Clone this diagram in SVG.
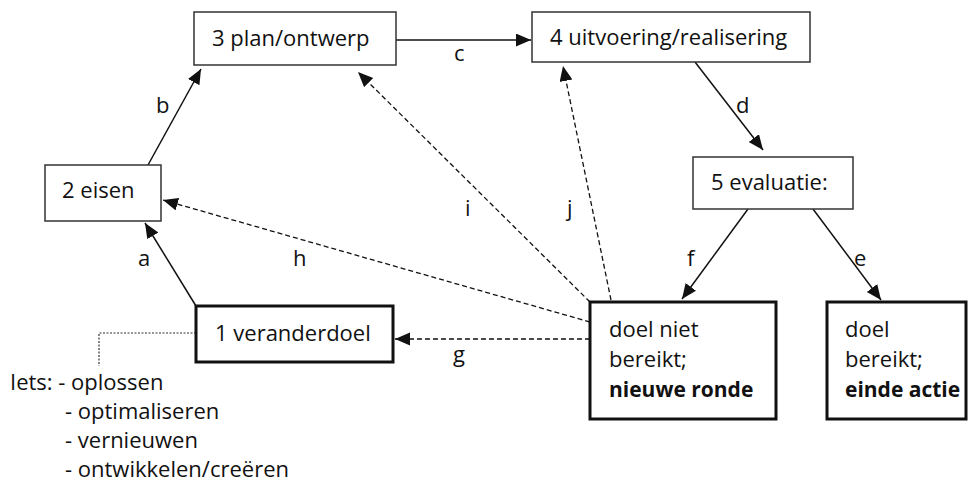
<svg xmlns="http://www.w3.org/2000/svg" width="971" height="485" viewBox="0 0 971 485">
<style>
text{font-family:"Open Sans","Liberation Sans",Arial,sans-serif;font-size:22px;fill:#111}
.b{font-weight:bold;font-size:21px}
.thin{fill:#fff;stroke:#333;stroke-width:1.5}
.thick{fill:#fff;stroke:#111;stroke-width:3}
.c{stroke:#111;stroke-width:1.5;fill:none}
.d{stroke:#111;stroke-width:1.3;fill:none;stroke-dasharray:5,3}
.dot{stroke:#333;stroke-width:1.2;fill:none;stroke-dasharray:2,1.5}
</style>
<defs>
<marker id="ah" markerUnits="userSpaceOnUse" markerWidth="18" markerHeight="14" refX="15" refY="6.5" orient="auto">
<path d="M0,0 L15,6.5 L0,13 Z" fill="#111"/>
</marker>
</defs>
<g id="connectors">
<line class="c" x1="396" y1="40" x2="531" y2="40" marker-end="url(#ah)"/>
<line class="c" x1="148" y1="165" x2="201" y2="69" marker-end="url(#ah)"/>
<line class="c" x1="196" y1="306" x2="145" y2="223" marker-end="url(#ah)"/>
<line class="c" x1="695" y1="62" x2="763" y2="150" marker-end="url(#ah)"/>
<line class="c" x1="748" y1="209" x2="682" y2="299" marker-end="url(#ah)"/>
<line class="c" x1="813" y1="209" x2="881" y2="300" marker-end="url(#ah)"/>
<line class="d" x1="590" y1="339" x2="395" y2="339" marker-end="url(#ah)"/>
<line class="d" x1="590" y1="322" x2="163" y2="200" marker-end="url(#ah)"/>
<line class="d" x1="590" y1="302" x2="358" y2="72" marker-end="url(#ah)"/>
<line class="d" x1="611" y1="300" x2="563" y2="66" marker-end="url(#ah)"/>
<polyline class="dot" points="196,333 99,333 99,366"/>
<text x="454" y="61">c</text>
<text x="156" y="113">b</text>
<text x="138" y="266">a</text>
<text x="736" y="113">d</text>
<text x="687" y="266">f</text>
<text x="854" y="266">e</text>
<text x="453" y="362">g</text>
<text x="293" y="266">h</text>
<text x="465" y="216">i</text>
<text x="567" y="216">j</text>
</g>
<g id="n3"><rect class="thin" x="194" y="12" width="202" height="53"/><text x="212" y="46">3 plan/ontwerp</text></g>
<g id="n4"><rect class="thin" x="532" y="12" width="278" height="50"/><text x="550" y="45">4 uitvoering/realisering</text></g>
<g id="n2"><rect class="thin" x="45" y="165" width="116" height="56"/><text x="62" y="198">2 eisen</text></g>
<g id="n5"><rect class="thin" x="693" y="157" width="160" height="52"/><text x="711" y="190">5 evaluatie:</text></g>
<g id="n1"><rect class="thick" x="196" y="306" width="197" height="56"/><text x="215" y="341">1 veranderdoel</text></g>
<g id="nf"><rect class="thick" x="590" y="302" width="186" height="117"/>
<text x="609" y="337">doel niet</text><text x="609" y="367">bereikt;</text><text class="b" x="609" y="397">nieuwe ronde</text></g>
<g id="ne"><rect class="thick" x="827" y="302" width="139" height="117"/>
<text x="845" y="337">doel</text><text x="845" y="367">bereikt;</text><text class="b" x="845" y="397">einde actie</text></g>
<g id="note">
<text x="10" y="390">Iets: - oplossen</text>
<text x="65" y="419">- optimaliseren</text>
<text x="65" y="448">- vernieuwen</text>
<text x="65" y="477">- ontwikkelen/creëren</text>
</g>
</svg>
